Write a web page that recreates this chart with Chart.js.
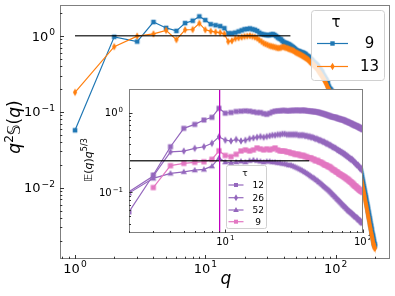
<!DOCTYPE html>
<html>
<head>
<meta charset="utf-8">
<script src="https://cdn.jsdelivr.net/npm/chart.js@4.4.0/dist/chart.umd.min.js"></script>
<style>
  html, body { margin: 0; padding: 0; background: #fff; }
  #wrap { position: relative; width: 395px; height: 296px; }
  #main { position: absolute; left: 0; top: 0; }
  #inset { position: absolute; left: 80px; top: 80px; }
</style>
</head>
<body>
<div id="wrap">
  <canvas id="main" width="395" height="296" style="width:395px;height:296px"></canvas>
  <canvas id="inset" width="290" height="175" style="width:290px;height:175px"></canvas>
</div>
<script>
// ---- main panel data: q^2 S(q) for tau = 9 and 13, q = 1..200 ----
const qMain = Array.from({length: 200}, (_, i) => i + 1);
const tau9 = [
  0.057, 0.97, 0.84, 1.52, 1.27, 1.16, 1.47, 1.58, 1.80, 1.61,
  1.42, 1.38, 1.34, 1.26, 1.08, 1.08, 1.10, 1.14, 1.18, 1.22,
  1.23, 1.25, 1.22, 1.20, 1.16, 1.10, 1.06, 1.04, 1.03, 1.02,
  1.02, 1.04, 1.05, 1.03, 0.99, 0.95, 0.92, 0.90, 0.86, 0.82,
  0.81, 0.80, 0.78, 0.77, 0.75, 0.73, 0.71, 0.69, 0.67, 0.65,
  0.63, 0.63, 0.62, 0.61, 0.60, 0.60, 0.59, 0.58, 0.57, 0.55,
  0.54, 0.53, 0.52, 0.50, 0.49, 0.48, 0.46, 0.45, 0.44, 0.43,
  0.42, 0.41, 0.40, 0.38, 0.37, 0.36, 0.35, 0.34, 0.33, 0.31,
  0.30, 0.29, 0.28, 0.27, 0.26, 0.25, 0.24, 0.22, 0.21, 0.20,
  0.20, 0.19, 0.19, 0.18, 0.18, 0.17, 0.16, 0.155, 0.15, 0.145,
  0.139, 0.134, 0.128, 0.123, 0.118, 0.114, 0.110, 0.106, 0.104, 0.101,
  0.097, 0.094, 0.090, 0.087, 0.084, 0.080, 0.078, 0.075, 0.072, 0.069,
  0.067, 0.064, 0.062, 0.059, 0.057, 0.055, 0.053, 0.051, 0.048, 0.047,
  0.045, 0.043, 0.041, 0.040, 0.038, 0.037, 0.035, 0.034, 0.032, 0.031,
  0.030, 0.029, 0.027, 0.026, 0.025, 0.024, 0.023, 0.022, 0.0215, 0.021,
  0.020, 0.019, 0.018, 0.0175, 0.017, 0.0164, 0.0155, 0.0147, 0.0139, 0.0131,
  0.0124, 0.0117, 0.0111, 0.0105, 0.0099, 0.0094, 0.0089, 0.0084, 0.0080, 0.0076,
  0.0072, 0.0068, 0.0064, 0.0061, 0.0058, 0.0055, 0.0052, 0.0049, 0.0047, 0.0044,
  0.0042, 0.0040, 0.0038, 0.0036, 0.0034, 0.0032, 0.0031, 0.0029, 0.0028, 0.0026,
  0.0025, 0.0024, 0.0023, 0.0022, 0.0021, 0.0020, 0.0019, 0.0018, 0.0018, 0.0017
];
const tau13 = [
  0.18, 0.72, 0.99, 1.06, 1.18, 0.89, 1.20, 1.21, 1.46, 1.20,
  1.15, 1.12, 1.10, 1.06, 0.84, 0.86, 0.92, 0.94, 0.96, 0.98,
  0.99, 1.00, 0.98, 0.96, 0.93, 0.88, 0.84, 0.80, 0.78, 0.76,
  0.74, 0.73, 0.72, 0.71, 0.70, 0.69, 0.69, 0.70, 0.71, 0.71,
  0.70, 0.69, 0.68, 0.67, 0.66, 0.65, 0.64, 0.63, 0.61, 0.60,
  0.59, 0.58, 0.57, 0.56, 0.55, 0.54, 0.53, 0.52, 0.51, 0.50,
  0.49, 0.48, 0.46, 0.45, 0.44, 0.43, 0.42, 0.41, 0.40, 0.39,
  0.38, 0.37, 0.36, 0.34, 0.33, 0.32, 0.31, 0.30, 0.29, 0.28,
  0.27, 0.26, 0.25, 0.24, 0.23, 0.22, 0.21, 0.20, 0.195, 0.19,
  0.18, 0.175, 0.17, 0.165, 0.16, 0.15, 0.145, 0.14, 0.135, 0.13,
  0.125, 0.120, 0.115, 0.110, 0.106, 0.102, 0.098, 0.095, 0.092, 0.089,
  0.086, 0.083, 0.080, 0.077, 0.074, 0.071, 0.068, 0.066, 0.063, 0.061,
  0.059, 0.056, 0.054, 0.052, 0.050, 0.048, 0.046, 0.044, 0.042, 0.041,
  0.039, 0.038, 0.036, 0.035, 0.033, 0.032, 0.031, 0.029, 0.028, 0.027,
  0.026, 0.025, 0.024, 0.023, 0.022, 0.021, 0.020, 0.019, 0.0185, 0.018,
  0.017, 0.0165, 0.016, 0.0152, 0.0146, 0.014, 0.0133, 0.0126, 0.0119, 0.0112,
  0.0106, 0.0100, 0.0095, 0.0090, 0.0085, 0.0080, 0.0076, 0.0072, 0.0068, 0.0064,
  0.0061, 0.0058, 0.0055, 0.0052, 0.0049, 0.0047, 0.0044, 0.0042, 0.0040, 0.0038,
  0.0036, 0.0034, 0.0032, 0.0031, 0.0029, 0.0028, 0.0026, 0.0025, 0.0024, 0.0023,
  0.0022, 0.0021, 0.0020, 0.0019, 0.0018, 0.0018, 0.0017, 0.0017, 0.0016, 0.0016
];
const mainRefX = [1, 45];
const mainRefY = [1, 1];
const mainLegendLabels = [' 9', '13'];

// ---- inset data: E(q) q^(5/3), q = 2..100 ----
const qInset = Array.from({length: 99}, (_, i) => i + 2);
const insetTau12 = [
  0.057, 0.165, 0.373, 0.634, 0.71, 0.805, 0.87, 1.13,
  0.98, 1.00, 1.03, 1.04, 1.05, 1.04, 1.02, 1.00, 1.00, 0.97, 0.95,
  0.98, 1.02, 1.04, 1.05, 1.05, 1.06, 1.06, 1.05, 1.05, 1.06,
  1.06, 1.06, 1.07, 1.06, 1.06, 1.06, 1.07, 1.06, 1.05, 1.05,
  1.04, 1.04, 1.03, 1.03, 1.02, 1.02, 1.01, 1.00, 0.99, 0.98,
  0.97, 0.96, 0.95, 0.94, 0.93, 0.92, 0.91, 0.90, 0.89, 0.88,
  0.88, 0.87, 0.87, 0.86, 0.85, 0.84, 0.84, 0.83, 0.82, 0.82,
  0.81, 0.81, 0.80, 0.79, 0.78, 0.77, 0.77, 0.76, 0.75, 0.74,
  0.74, 0.73, 0.72, 0.71, 0.71, 0.70, 0.69, 0.69, 0.68, 0.68,
  0.67, 0.66, 0.66, 0.65, 0.64, 0.64, 0.63, 0.63, 0.62, 0.61
];
const insetTau26 = [
  0.102, 0.160, 0.322, 0.329, 0.356, 0.373, 0.411, 0.497,
  0.45, 0.44, 0.46, 0.44, 0.45, 0.47, 0.48, 0.49, 0.50, 0.49, 0.50,
  0.51, 0.52, 0.52, 0.53, 0.53, 0.54, 0.54, 0.53, 0.53, 0.53,
  0.53, 0.53, 0.53, 0.52, 0.52, 0.52, 0.52, 0.51, 0.51, 0.50,
  0.50, 0.49, 0.49, 0.48, 0.47, 0.47, 0.46, 0.45, 0.45, 0.44,
  0.43, 0.43, 0.42, 0.41, 0.41, 0.40, 0.39, 0.39, 0.38, 0.37,
  0.37, 0.36, 0.36, 0.35, 0.34, 0.34, 0.33, 0.33, 0.32, 0.32,
  0.31, 0.31, 0.30, 0.30, 0.29, 0.29, 0.28, 0.28, 0.27, 0.27,
  0.26, 0.26, 0.26, 0.25, 0.25, 0.24, 0.24, 0.23, 0.23, 0.22,
  0.22, 0.22, 0.21, 0.21, 0.20, 0.20, 0.20, 0.19, 0.19, 0.19
];
const insetTau52 = [
  0.098, 0.150, 0.173, 0.181, 0.190, 0.194, 0.213, 0.27,
  0.24, 0.235, 0.24, 0.245, 0.24, 0.25, 0.255, 0.25, 0.245, 0.24, 0.245,
  0.245, 0.24, 0.24, 0.235, 0.235, 0.23, 0.23, 0.225, 0.22, 0.22,
  0.215, 0.21, 0.205, 0.20, 0.195, 0.19, 0.185, 0.18, 0.175, 0.17,
  0.165, 0.16, 0.155, 0.152, 0.148, 0.143, 0.14, 0.135, 0.132, 0.128,
  0.124, 0.12, 0.117, 0.114, 0.111, 0.108, 0.105, 0.102, 0.099, 0.096,
  0.093, 0.091, 0.088, 0.086, 0.083, 0.081, 0.079, 0.077, 0.075, 0.073,
  0.071, 0.069, 0.068, 0.066, 0.065, 0.063, 0.062, 0.060, 0.059, 0.058,
  0.057, 0.056, 0.055, 0.054, 0.053, 0.052, 0.051, 0.050, 0.049, 0.049,
  0.048, 0.047, 0.046, 0.045, 0.045, 0.044, 0.043, 0.042, 0.042, 0.041
];
const insetTau9 = [
  null, 0.115, 0.216, 0.231, 0.238, 0.242, 0.259, 0.332,
  0.29, 0.28, 0.30, 0.33, 0.34, 0.33, 0.34, 0.36, 0.35, 0.34, 0.35,
  0.34, 0.35, 0.36, 0.34, 0.33, 0.33, 0.33, 0.32, 0.32, 0.31,
  0.31, 0.30, 0.30, 0.30, 0.29, 0.29, 0.29, 0.28, 0.28, 0.27,
  0.27, 0.27, 0.26, 0.26, 0.25, 0.25, 0.25, 0.24, 0.24, 0.235,
  0.23, 0.225, 0.22, 0.22, 0.215, 0.21, 0.21, 0.205, 0.20, 0.195,
  0.19, 0.19, 0.185, 0.18, 0.18, 0.175, 0.17, 0.17, 0.165, 0.165,
  0.16, 0.16, 0.155, 0.155, 0.15, 0.15, 0.145, 0.145, 0.14, 0.14,
  0.135, 0.135, 0.13, 0.13, 0.125, 0.125, 0.12, 0.12, 0.118, 0.115,
  0.114, 0.112, 0.11, 0.108, 0.107, 0.105, 0.104, 0.103, 0.102, 0.10
];
const insetRefX = [2, 40.7];
const insetRefY = [0.249, 0.249];
const insetVLineQ = 9.1;
const insetLegendLabels = ['12', '26', '52', ' 9'];

// tick values and their exponent labels
const mainXTicks = [1, 10, 100], mainXExp = ['0', '1', '2'];
const mainYTicks = [0.01, 0.1, 1], mainYExp = ['\u22122', '\u22121', '0'];
const insetXTicks = [10, 100], insetXExp = ['1', '2'];
const insetYTicks = [0.1, 1], insetYExp = ['\u22121', '0'];

const BLUE = '#1f77b4', ORANGE = '#ff7f0e', PURPLE = '#9467bd', PINK = '#e377c2';
const FONT = '"DejaVu Sans"';

function marker(ctx, shape, x, y, color, s) {
  s = s || 1;
  ctx.fillStyle = color;
  ctx.beginPath();
  if (shape === 'square') {
    ctx.rect(x - 2 * s, y - 2 * s, 4 * s, 4 * s);
  } else if (shape === 'thin') {
    ctx.moveTo(x, y - 3.5 * s); ctx.lineTo(x + 2 * s, y);
    ctx.lineTo(x, y + 3.5 * s); ctx.lineTo(x - 2 * s, y);
  } else if (shape === 'tri') {
    ctx.moveTo(x, y - 3 * s); ctx.lineTo(x + 2.8 * s, y + 2 * s); ctx.lineTo(x - 2.8 * s, y + 2 * s);
  }
  ctx.closePath();
  ctx.fill();
}
function markerCanvas(shape, color, s) {
  const c = document.createElement('canvas');
  c.width = 12; c.height = 12;
  marker(c.getContext('2d'), shape, 6, 6, color, s);
  return c;
}
function pts(xs, ys) {
  return xs.map((q, i) => ({x: q, y: ys[i]}));
}

// minor tick values for a log axis
function minorTicks(lo, hi) {
  const out = [];
  for (let e = Math.floor(Math.log10(lo)); e <= Math.ceil(Math.log10(hi)); e++) {
    for (let k = 2; k <= 9; k++) {
      const v = k * Math.pow(10, e);
      if (v >= lo && v <= hi) out.push(v);
    }
  }
  return out;
}

function drawPow(ctx, x, yMid, exp, size, align) {
  ctx.textAlign = 'left';
  ctx.textBaseline = 'alphabetic';
  ctx.font = size + 'px ' + FONT;
  const wb = ctx.measureText('10').width;
  const es = size * 0.7;
  ctx.font = es + 'px ' + FONT;
  const we = ctx.measureText(exp).width;
  const w = wb + we + 1;
  const x0 = align === 'right' ? x - w : align === 'center' ? x - w / 2 : x;
  const base = yMid + size * 0.365;
  ctx.font = size + 'px ' + FONT;
  ctx.fillText('10', x0, base);
  ctx.font = es + 'px ' + FONT;
  ctx.fillText(exp, x0 + wb + 1, base - size * 0.45);
}

// draws a run of text pieces centred on (cx, cy), optionally rotated
function drawRich(ctx, parts, cx, cy, rot) {
  ctx.save();
  ctx.translate(cx, cy);
  if (rot) ctx.rotate(rot);
  ctx.textBaseline = 'alphabetic';
  ctx.textAlign = 'left';
  let w = 0;
  parts.forEach(p => { ctx.font = p.font; p.w = ctx.measureText(p.t).width; w += p.w; });
  let x = -w / 2;
  parts.forEach(p => {
    ctx.font = p.font;
    ctx.fillText(p.t, x, p.dy || 0);
    x += p.w;
  });
  ctx.restore();
}

function roundBox(ctx, x, y, w, h, r) {
  ctx.beginPath();
  ctx.moveTo(x + r, y);
  ctx.lineTo(x + w - r, y); ctx.arcTo(x + w, y, x + w, y + r, r);
  ctx.lineTo(x + w, y + h - r); ctx.arcTo(x + w, y + h, x + w - r, y + h, r);
  ctx.lineTo(x + r, y + h); ctx.arcTo(x, y + h, x, y + h - r, r);
  ctx.lineTo(x, y + r); ctx.arcTo(x, y, x + r, y, r);
  ctx.closePath();
}

function drawFrame(chart, o) {
  const {ctx, chartArea: a} = chart;
  const sx = chart.scales.x, sy = chart.scales.y;
  ctx.save();
  // spines
  ctx.strokeStyle = '#7f7f7f';
  ctx.lineWidth = 1;
  ctx.strokeRect(Math.round(a.left) + 0.5, Math.round(a.top) + 0.5,
                 Math.round(a.right - a.left) - 1, Math.round(a.bottom - a.top) - 1);
  // inward ticks, bottom and left only
  ctx.strokeStyle = '#333';
  ctx.lineWidth = 1;
  const tick = (v, isX, len) => {
    ctx.beginPath();
    if (isX) {
      const px = Math.round(sx.getPixelForValue(v)) + 0.5;
      ctx.moveTo(px, a.bottom); ctx.lineTo(px, a.bottom - len);
    } else {
      const py = Math.round(sy.getPixelForValue(v)) + 0.5;
      ctx.moveTo(a.left, py); ctx.lineTo(a.left + len, py);
    }
    ctx.stroke();
  };
  minorTicks(sx.min, sx.max).forEach(v => tick(v, true, o.minorLen));
  minorTicks(sy.min, sy.max).forEach(v => tick(v, false, o.minorLen));
  o.xTicks.forEach(v => tick(v, true, o.majorLen));
  o.yTicks.forEach(v => tick(v, false, o.majorLen));
  // tick labels
  ctx.fillStyle = '#000';
  o.xTicks.forEach((v, i) => drawPow(ctx, sx.getPixelForValue(v), a.bottom + o.xLabelDy, o.xExp[i], o.tickFont, 'center'));
  o.yTicks.forEach((v, i) => drawPow(ctx, a.left - o.yLabelDx, sy.getPixelForValue(v), o.yExp[i], o.tickFont, 'right'));
  ctx.restore();
}

const mainDecor = {
  id: 'mainDecor',
  afterDraw(chart) {
    const ctx = chart.ctx;
    drawFrame(chart, {
      xTicks: mainXTicks, xExp: mainXExp, yTicks: mainYTicks, yExp: mainYExp,
      majorLen: 4, minorLen: 2.3, tickFont: 13, xLabelDy: 9.5, yLabelDx: 5
    });
    ctx.save();
    ctx.fillStyle = '#000';
    // axis titles
    drawRich(ctx, [{t: 'q', font: 'italic 17px ' + FONT}], 226, 284, 0);
    drawRich(ctx, [
      {t: 'q', font: 'italic 17px ' + FONT},
      {t: '2', font: '12px ' + FONT, dy: -7},
      {t: '\uD835\uDD4A(', font: '17px ' + FONT},
      {t: 'q', font: 'italic 17px ' + FONT},
      {t: ')', font: '17px ' + FONT}
    ], 20, 127, -Math.PI / 2);
    // legend
    roundBox(ctx, 311.5, 10.5, 73, 70, 3);
    ctx.fillStyle = 'rgba(255,255,255,0.8)';
    ctx.fill();
    ctx.strokeStyle = '#d0d0d0';
    ctx.lineWidth = 1;
    ctx.stroke();
    ctx.fillStyle = '#000';
    ctx.font = '15px ' + FONT;
    ctx.textAlign = 'center';
    ctx.textBaseline = 'middle';
    ctx.fillText('\u03C4', 336, 23);
    const rows = [[BLUE, 'square', 43.5], [ORANGE, 'thin', 66.5]];
    rows.forEach((r, i) => {
      ctx.strokeStyle = r[0];
      ctx.lineWidth = 1.2;
      ctx.beginPath(); ctx.moveTo(317, r[2]); ctx.lineTo(348, r[2]); ctx.stroke();
      marker(ctx, r[1], 332.5, r[2], r[0], 1.1);
      ctx.fillStyle = '#000';
      ctx.font = '15px ' + FONT;
      ctx.textAlign = 'left';
      ctx.fillText(mainLegendLabels[i], 360, r[2] + 1);
    });
    ctx.restore();
  }
};

const insetDecor = {
  id: 'insetDecor',
  beforeDraw(chart) {
    const {ctx, chartArea: a} = chart;
    ctx.save();
    ctx.fillStyle = '#fff';
    ctx.fillRect(a.left, a.top, a.right - a.left, a.bottom - a.top);
    ctx.restore();
  },
  afterDraw(chart) {
    const ctx = chart.ctx;
    drawFrame(chart, {
      xTicks: insetXTicks, xExp: insetXExp, yTicks: insetYTicks, yExp: insetYExp,
      majorLen: 3.5, minorLen: 2, tickFont: 10, xLabelDy: 8, yLabelDx: 6
    });
    ctx.save();
    ctx.fillStyle = '#000';
    drawRich(ctx, [
      {t: '\uD835\uDD3C(', font: '11px ' + FONT},
      {t: 'q', font: 'italic 11px ' + FONT},
      {t: ')', font: '11px ' + FONT},
      {t: 'q', font: 'italic 11px ' + FONT},
      {t: '5/3', font: '8px ' + FONT, dy: -5}
    ], 12, 80, -Math.PI / 2);
    // inset legend
    roundBox(ctx, 146.5, 85.5, 40, 63, 2);
    ctx.fillStyle = 'rgba(255,255,255,0.8)';
    ctx.fill();
    ctx.strokeStyle = '#d0d0d0';
    ctx.lineWidth = 1;
    ctx.stroke();
    ctx.fillStyle = '#000';
    ctx.font = '9px ' + FONT;
    ctx.textAlign = 'center';
    ctx.textBaseline = 'middle';
    ctx.fillText('\u03C4', 165, 93.5);
    const rows = [[PURPLE, 'square', 105], [PURPLE, 'thin', 117.7], [PURPLE, 'tri', 130], [PINK, 'square', 141.7]];
    rows.forEach((r, i) => {
      ctx.strokeStyle = r[0];
      ctx.lineWidth = 1.2;
      ctx.beginPath(); ctx.moveTo(148.5, r[2]); ctx.lineTo(163.5, r[2]); ctx.stroke();
      marker(ctx, r[1], 156, r[2], r[0], 1);
      ctx.fillStyle = '#000';
      ctx.font = '9px ' + FONT;
      ctx.textAlign = 'left';
      ctx.fillText(insetLegendLabels[i], 172.5, r[2] + 0.5);
    });
    ctx.restore();
  }
};

function logScale(min, max, w, h) {
  const s = {
    type: 'logarithmic', min: min, max: max,
    ticks: {display: false},
    grid: {display: false},
    border: {display: false}
  };
  s.afterFit = scale => {
    if (w !== undefined) scale.width = w;
    if (h !== undefined) scale.height = h;
  };
  return s;
}

new Chart(document.getElementById('main'), {
  type: 'line',
  data: {
    datasets: [
      {
        label: mainLegendLabels[0], data: pts(qMain, tau9), order: 3,
        borderColor: BLUE, borderWidth: 1.2,
        pointStyle: markerCanvas('square', BLUE, 1.15), pointRadius: 3
      },
      {
        label: mainLegendLabels[1], data: pts(qMain, tau13), order: 2,
        borderColor: ORANGE, borderWidth: 1.2,
        pointStyle: markerCanvas('thin', ORANGE, 1.05), pointRadius: 3
      },
      {
        label: 'ref', data: pts(mainRefX, mainRefY), order: 1,
        borderColor: 'rgba(0,0,0,0.75)', borderWidth: 1.5, pointRadius: 0
      }
    ]
  },
  options: {
    responsive: false, animation: false, devicePixelRatio: 1,
    layout: {padding: {left: 0, right: 2, top: 2, bottom: 0}},
    plugins: {legend: {display: false}, tooltip: {enabled: false}},
    scales: {
      x: logScale(0.767, 260.6, undefined, 37),
      y: logScale(0.00115, 2.53, 60, undefined)
    }
  },
  plugins: [mainDecor]
});

new Chart(document.getElementById('inset'), {
  type: 'line',
  data: {
    datasets: [
      {
        label: insetLegendLabels[0], data: pts(qInset, insetTau12), order: 7,
        borderColor: PURPLE, borderWidth: 1.2,
        pointStyle: markerCanvas('square', PURPLE, 1.25), pointRadius: 3
      },
      {
        label: insetLegendLabels[1], data: pts(qInset, insetTau26), order: 6,
        borderColor: PURPLE, borderWidth: 1.2,
        pointStyle: markerCanvas('thin', PURPLE, 1.1), pointRadius: 3
      },
      {
        label: insetLegendLabels[2], data: pts(qInset, insetTau52), order: 5,
        borderColor: PURPLE, borderWidth: 1.2,
        pointStyle: markerCanvas('tri', PURPLE, 1.1), pointRadius: 3
      },
      {
        label: insetLegendLabels[3], data: pts(qInset, insetTau9), order: 4,
        borderColor: PINK, borderWidth: 1.2,
        pointStyle: markerCanvas('square', PINK, 1.3), pointRadius: 3
      },
      {
        label: 'ref', data: pts(insetRefX, insetRefY), order: 2,
        borderColor: 'rgba(0,0,0,0.8)', borderWidth: 1.3, pointRadius: 0
      },
      {
        label: 'vline', data: [{x: insetVLineQ, y: 0.031}, {x: insetVLineQ, y: 1.97}], order: 1,
        borderColor: '#bf00bf', borderWidth: 1.3, pointRadius: 0
      }
    ]
  },
  options: {
    responsive: false, animation: false, devicePixelRatio: 1,
    layout: {padding: {left: 0, right: 7, top: 9, bottom: 0}},
    plugins: {legend: {display: false}, tooltip: {enabled: false}},
    scales: {
      x: logScale(2, 100, undefined, 22),
      y: logScale(0.031, 1.97, 49, undefined)
    }
  },
  plugins: [insetDecor]
});
</script>
</body>
</html>
